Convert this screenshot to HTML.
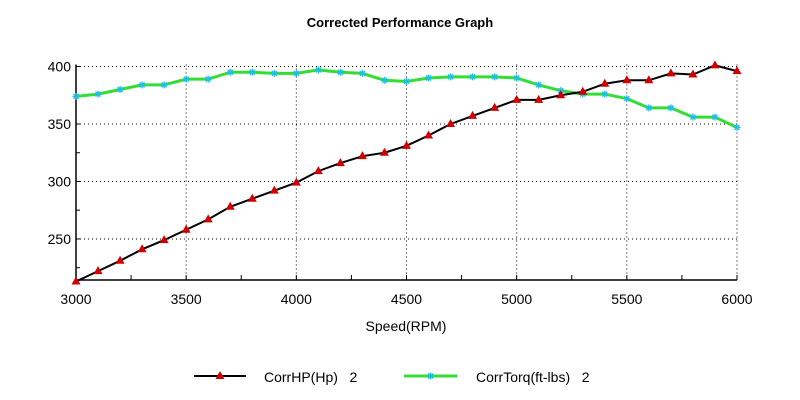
<!DOCTYPE html>
<html><head><meta charset="utf-8"><style>
html,body{margin:0;padding:0;background:#fff;width:800px;height:400px;overflow:hidden}
svg text{font-family:"Liberation Sans",sans-serif;fill:#000}
</style></head><body>
<svg id="chart" width="800" height="400">
<text x="400" y="27" font-size="13" font-weight="bold" text-anchor="middle">Corrected Performance Graph</text>
<g id="grid"></g>
<g id="axes"></g>
<g id="series"></g>
<text x="406" y="331" font-size="14" text-anchor="middle">Speed(RPM)</text>
<g>
<line x1="194" y1="376" x2="246" y2="376" stroke="#000" stroke-width="2"/>
<polygon points="220,371 224.5,379 215.5,379" fill="#d00000"/>
<text x="264" y="382" font-size="14" style="white-space:pre" xml:space="preserve">CorrHP(Hp)   2</text>
</g>
<g>
<line x1="404" y1="376" x2="457" y2="376" stroke="#33dd33" stroke-width="3"/>
<g stroke="#22bbee" stroke-width="1.3">
<line x1="427" y1="376" x2="434" y2="376"/><line x1="430.5" y1="372.5" x2="430.5" y2="379.5"/>
<line x1="428" y1="373.5" x2="433" y2="378.5"/><line x1="428" y1="378.5" x2="433" y2="373.5"/>
</g>
<text x="476" y="382" font-size="14" style="white-space:pre" xml:space="preserve">CorrTorq(ft-lbs)   2</text>
</g>
</svg>
<script>
const rpm=[3000,3100,3200,3300,3400,3500,3600,3700,3800,3900,4000,4100,4200,4300,4400,4500,4600,4700,4800,4900,5000,5100,5200,5300,5400,5500,5600,5700,5800,5900,6000];
const hp=[213,222,231,241,249,258,267,278,285,292,299,309,316,322,325,331,340,350,357,364,371,371,375,378,385,388,388,394,393,401,396];
const torque=[374,376,380,384,384,389,389,395,395,394,394,397,395,394,388,387,390,391,391,391,390,384,379,376,376,372,364,364,356,356,347];
const xTicks=[3000,3500,4000,4500,5000,5500,6000];
const yTicks=[250,300,350,400];
const NS='http://www.w3.org/2000/svg';
const X0=76,X1=737,XMIN=3000,XMAX=6000;
const YB=280,YMIN=214.3,YT=66.5,YMAX=400;
const sx=v=>X0+(v-XMIN)/(XMAX-XMIN)*(X1-X0);
const sy=v=>YB-(v-YMIN)/(YMAX-YMIN)*(YB-YT);
function mk(tag,attrs,parent){const e=document.createElementNS(NS,tag);for(const k in attrs)e.setAttribute(k,attrs[k]);parent.appendChild(e);return e;}
const grid=document.getElementById('grid'),axes=document.getElementById('axes'),ser=document.getElementById('series');
xTicks.forEach(t=>{
 if(t>XMIN){const l=mk('line',{x1:sx(t),y1:YT-2,x2:sx(t),y2:YB,stroke:'#000','stroke-dasharray':'1,3','stroke-width':1},grid);
 
 }
 const tx=mk('text',{x:sx(t),y:304,'font-size':14,'text-anchor':'middle'},axes);tx.textContent=t;
 
 
});
for(let t=XMIN;t<=XMAX;t+=250){mk('line',{x1:sx(t),y1:YB,x2:sx(t),y2:YB-5,stroke:'#000'},axes);}
yTicks.forEach(t=>{
 const l=mk('line',{x1:X0,y1:sy(t),x2:X1+2,y2:sy(t),stroke:'#000','stroke-dasharray':'1,3','stroke-width':1},grid);
 
 
 const tx=mk('text',{x:X0-5,y:sy(t)+5,'font-size':14,'text-anchor':'end'},axes);tx.textContent=t;
 
 
});
for(let t=225;t<=400;t+=25){mk('line',{x1:X0,y1:sy(t),x2:X0+4,y2:sy(t),stroke:'#000'},axes);}
mk('line',{x1:X0,y1:YT-2,x2:X0,y2:YB,stroke:'#000','stroke-width':1.5},axes);
mk('line',{x1:X0,y1:YB,x2:X1,y2:YB,stroke:'#000','stroke-width':1.5},axes);
const tl=mk('polyline',{points:rpm.map((r,i)=>sx(r)+','+sy(torque[i])).join(' '),fill:'none',stroke:'#33dd33','stroke-width':3},ser);


const hl=mk('polyline',{points:rpm.map((r,i)=>sx(r)+','+sy(hp[i])).join(' '),fill:'none',stroke:'#000','stroke-width':2},ser);


rpm.forEach((r,i)=>{
 const x=sx(r),y=sy(torque[i]);
 const g=mk('g',{stroke:'#22bbee','stroke-width':1.3},ser);
 
 
 mk('line',{x1:x-3.5,y1:y,x2:x+3.5,y2:y},g);mk('line',{x1:x,y1:y-3.5,x2:x,y2:y+3.5},g);
 mk('line',{x1:x-2.5,y1:y-2.5,x2:x+2.5,y2:y+2.5},g);mk('line',{x1:x-2.5,y1:y+2.5,x2:x+2.5,y2:y-2.5},g);
});
rpm.forEach((r,i)=>{
 const x=sx(r),y=sy(hp[i]);
 const p=mk('polygon',{points:`${x},${y-5} ${x+4.5},${y+3} ${x-4.5},${y+3}`,fill:'#d00000'},ser);
 
 
});
</script>
</body></html>
